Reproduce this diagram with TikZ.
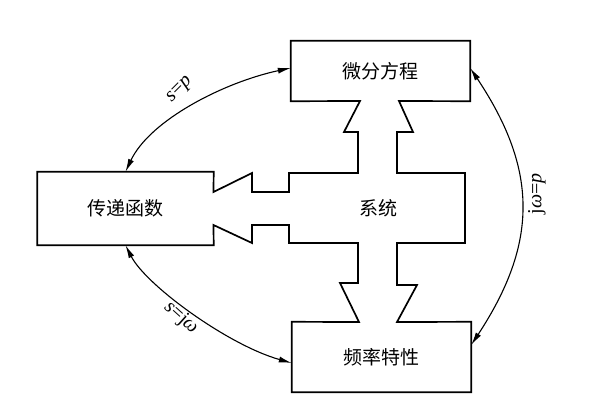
\documentclass[tikz,border=0pt]{standalone}
\usepackage{fontspec}
\newfontfamily\cjk{Noto Sans CJK SC}
\newfontfamily\lab{Liberation Serif}
\usetikzlibrary{arrows.meta}
\begin{document}
\begin{tikzpicture}[x=1pt,y=-1pt,
  box/.style={draw=none,inner sep=0pt,font=\cjk\fontsize{19}{19}\selectfont},
  outline/.style={line width=1.7pt,line join=miter},
  link/.style={line width=1.1pt,{Latex[length=13pt,width=6pt]}-{Latex[length=13pt,width=6pt]}},
  lbl/.style={inner sep=0pt,font=\lab\fontsize{20}{20}\selectfont}]
\useasboundingbox[fill=white] (0,0) rectangle (594,408);
\node[box,minimum width=179pt,minimum height=60pt] (wf) at (380.5,71) {微分方程};
\node[box,minimum width=179pt,minimum height=70pt] (pl) at (381.5,357) {频率特性};
\node[box,minimum width=176pt,minimum height=73pt] (cd) at (125.5,208.5) {传递函数};
\node[box] (xt) at (378,208) {系统};
\draw[outline] (360,101) -- (wf.south west) -- (wf.north west) -- (wf.north east) -- (wf.south east)
  -- (399,101) -- (413,132) -- (397,132) -- (397,173) -- (465,173) -- (465,243) -- (397,243)
  -- (397,285) -- (417,285) -- (397,322) -- (pl.north east) -- (pl.south east) -- (pl.south west)
  -- (pl.north west) -- (359,322) -- (340,283) -- (358,283) -- (358,243) -- (289,243) -- (289,225)
  -- (252,225) -- (252,243) -- (213.5,225) -- (cd.south east) -- (cd.south west) -- (cd.north west)
  -- (cd.north east) -- (213.5,192) -- (252,173) -- (252,192) -- (289,192) -- (289,173) -- (358,173)
  -- (358,132) -- (344,132) -- cycle;
\draw[link] (cd.north) .. controls +(24.5,-52) and +(-66,14) .. ([yshift=3pt]wf.west);
\draw[link] (cd.south) .. controls +(20.5,40) and +(-64,-18) .. ([yshift=-6pt]pl.west);
\draw[link] ([yshift=3pt]wf.east) .. controls +(68,102) and +(67,-102) .. ([yshift=12pt]pl.east);
\node[lbl,rotate=45] (l1) at (180,90) {\textit{s}=\textit{p}};
\node[lbl,rotate=-42] (l2) at (181,318) {\textit{s}=j\textit{ω}};
\node[lbl,rotate=90] (l3) at (537,194) {j\textit{ω}=\textit{p}};
\end{tikzpicture}
\end{document}
